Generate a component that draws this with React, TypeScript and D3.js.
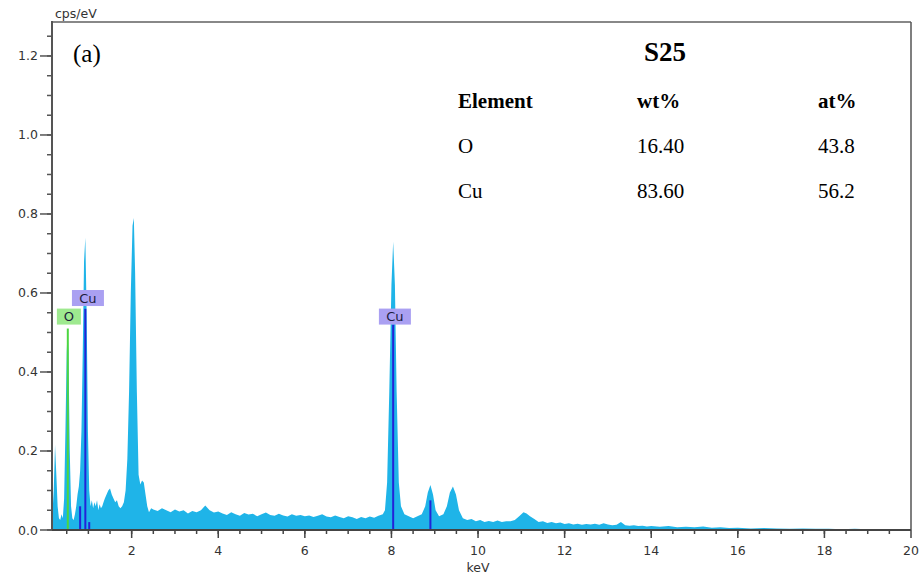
import React from "react";
import * as d3 from "d3";

// Spectrum: [keV, cps/eV]
const SPECTRUM: [number, number][] = [
  [0.16, 0.0], [0.17, 0.04], [0.2, 0.1], [0.23, 0.215], [0.26, 0.14], [0.29, 0.06],
  [0.32, 0.03], [0.35, 0.025], [0.38, 0.04], [0.41, 0.03], [0.44, 0.08], [0.47, 0.25],
  [0.5, 0.45], [0.52, 0.51], [0.54, 0.45], [0.57, 0.2], [0.6, 0.06], [0.63, 0.03],
  [0.66, 0.025], [0.69, 0.04], [0.72, 0.06], [0.75, 0.09], [0.78, 0.11], [0.81, 0.15],
  [0.84, 0.25], [0.87, 0.45], [0.9, 0.68], [0.93, 0.74], [0.96, 0.55], [0.99, 0.25],
  [1.02, 0.1], [1.05, 0.06], [1.08, 0.075], [1.11, 0.055], [1.14, 0.07], [1.17, 0.06],
  [1.2, 0.075], [1.23, 0.05], [1.26, 0.065], [1.29, 0.055], [1.32, 0.06], [1.35, 0.07],
  [1.38, 0.08], [1.42, 0.09], [1.46, 0.1], [1.5, 0.105], [1.54, 0.09], [1.58, 0.08],
  [1.62, 0.07], [1.66, 0.075], [1.7, 0.06], [1.74, 0.055], [1.78, 0.06], [1.82, 0.07],
  [1.86, 0.1], [1.9, 0.18], [1.94, 0.35], [1.98, 0.6], [2.02, 0.77], [2.05, 0.79],
  [2.08, 0.65], [2.12, 0.35], [2.16, 0.14], [2.2, 0.115], [2.24, 0.125], [2.28, 0.12],
  [2.32, 0.09], [2.36, 0.06], [2.4, 0.045], [2.45, 0.055],
  [2.5, 0.052], [2.6, 0.048], [2.7, 0.055], [2.8, 0.05], [2.9, 0.045], [3.0, 0.052],
  [3.1, 0.047], [3.2, 0.05], [3.3, 0.042], [3.4, 0.048], [3.5, 0.045], [3.6, 0.05],
  [3.7, 0.062], [3.8, 0.05], [3.9, 0.044], [4.0, 0.047],
  [4.1, 0.042], [4.2, 0.038], [4.3, 0.045], [4.4, 0.04], [4.5, 0.036], [4.6, 0.043],
  [4.7, 0.039], [4.8, 0.041], [4.9, 0.035], [5.0, 0.04], [5.1, 0.044], [5.2, 0.038],
  [5.3, 0.036], [5.4, 0.041], [5.5, 0.037], [5.6, 0.034], [5.7, 0.04], [5.8, 0.036],
  [5.9, 0.038], [6.0, 0.035],
  [6.1, 0.037], [6.2, 0.033], [6.3, 0.036], [6.4, 0.04], [6.5, 0.034], [6.6, 0.032],
  [6.7, 0.037], [6.8, 0.033], [6.9, 0.03], [7.0, 0.035], [7.1, 0.032], [7.2, 0.028],
  [7.3, 0.033], [7.4, 0.03], [7.5, 0.034], [7.6, 0.031], [7.7, 0.036], [7.8, 0.04],
  [7.85, 0.05], [7.9, 0.12], [7.95, 0.35], [8.0, 0.62], [8.04, 0.73], [8.08, 0.62],
  [8.12, 0.35], [8.17, 0.12], [8.22, 0.06], [8.3, 0.04], [8.4, 0.035], [8.5, 0.03],
  [8.6, 0.035], [8.7, 0.04], [8.78, 0.06], [8.84, 0.095], [8.9, 0.114], [8.96, 0.09],
  [9.02, 0.05], [9.1, 0.035], [9.2, 0.04], [9.28, 0.06], [9.35, 0.095], [9.42, 0.11],
  [9.49, 0.09], [9.56, 0.05], [9.65, 0.03], [9.75, 0.025], [9.85, 0.028], [9.95, 0.022],
  [10.05, 0.025], [10.15, 0.02], [10.25, 0.023], [10.35, 0.02], [10.45, 0.024],
  [10.55, 0.02], [10.65, 0.022], [10.75, 0.022], [10.85, 0.025], [10.95, 0.035],
  [11.05, 0.045], [11.12, 0.042], [11.2, 0.035], [11.3, 0.028], [11.4, 0.02],
  [11.5, 0.022], [11.6, 0.018], [11.7, 0.02], [11.8, 0.017], [11.9, 0.019],
  [12.0, 0.015], [12.1, 0.017], [12.2, 0.014], [12.3, 0.016], [12.4, 0.013],
  [12.5, 0.015], [12.6, 0.014], [12.7, 0.016], [12.8, 0.013], [12.9, 0.017],
  [13.0, 0.014], [13.1, 0.012], [13.2, 0.013], [13.3, 0.02], [13.4, 0.012],
  [13.5, 0.011], [13.6, 0.012], [13.7, 0.01], [13.8, 0.011], [13.9, 0.009],
  [14.0, 0.01], [14.2, 0.008], [14.4, 0.01], [14.6, 0.007], [14.8, 0.008],
  [15.0, 0.007], [15.2, 0.009], [15.4, 0.006], [15.6, 0.007], [15.8, 0.005],
  [16.0, 0.006], [16.3, 0.004], [16.6, 0.005], [16.9, 0.004], [17.2, 0.003],
  [17.5, 0.004], [17.8, 0.003], [18.1, 0.003], [18.4, 0.002], [18.7, 0.003],
  [19.0, 0.002], [19.4, 0.002], [19.8, 0.001], [20.0, 0.0],
];

// Element marker lines: [keV, height, colour]
const MARKERS: [number, number, string][] = [
  [0.525, 0.51, "#4cd640"],
  [0.81, 0.06, "#2323d8"],
  [0.93, 0.56, "#2323d8"],
  [1.02, 0.02, "#2323d8"],
  [8.04, 0.52, "#2323d8"],
  [8.9, 0.075, "#2323d8"],
];

// Element labels: [text, keV centre, value (bottom), fill]
const LABELS: [string, number, number, string][] = [
  ["O", 0.55, 0.52, "#9ee98f"],
  ["Cu", 0.99, 0.567, "#aaa0f2"],
  ["Cu", 8.08, 0.52, "#aaa0f2"],
];

const Y_MAJOR = [0, 0.2, 0.4, 0.6, 0.8, 1.0, 1.2];
const X_MAJOR = [2, 4, 6, 8, 10, 12, 14, 16, 18, 20];

const TABLE_HEAD = ["Element", "wt%", "at%"];
const TABLE_ROWS = [
  ["O", "16.40", "43.8"],
  ["Cu", "83.60", "56.2"],
];

export default function App() {
  const W = 924, H = 582;
  const L = 52, R = 911, T = 22, B = 530;
  const x = d3.scaleLinear().domain([0.16, 20]).range([L, R]);
  const y = d3.scaleLinear().domain([0, 1.286]).range([B, T]);

  const area = d3
    .area<[number, number]>()
    .x((d) => x(d[0]))
    .y0(B)
    .y1((d) => y(d[1]))
    .curve(d3.curveLinear);

  const yMinor = d3.range(0, 1.2501, 0.05);
  const xMinor = d3.range(0.5, 20, 0.5);
  const sans = "'DejaVu Sans', Verdana, sans-serif";
  const serif = "'Liberation Serif', 'Times New Roman', serif";
  const colX = [458, 637, 818];

  return (
    <svg width={W} height={H} style={{ position: "absolute", left: 0, top: 0, background: "#fff" }}>
      <defs>
        <clipPath id="plot">
          <rect x={L} y={T} width={R - L} height={B - T} />
        </clipPath>
      </defs>
      <g clipPath="url(#plot)">
        <path d={area(SPECTRUM) || ""} fill="#1fb4e8" />
        {MARKERS.map(([k, h, c], i) => (
          <line key={i} x1={x(k)} x2={x(k)} y1={B} y2={y(h)} stroke={c} strokeWidth={2} />
        ))}
      </g>
      {LABELS.map(([t, k, v, f], i) => {
        const w = t.length === 1 ? 24 : 32;
        const cx = x(k);
        const by = y(v);
        return (
          <g key={i}>
            <rect x={cx - w / 2} y={by - 16} width={w} height={16} fill={f} />
            <text x={cx} y={by - 3.5} textAnchor="middle" fontFamily={sans} fontSize={13} fill="#1c1c3c">
              {t}
            </text>
          </g>
        );
      })}
      {/* frame */}
      <line x1={L} x2={R} y1={T} y2={T} stroke="#888" strokeWidth={2} />
      <line x1={R} x2={R} y1={T} y2={B} stroke="#555" strokeWidth={1.5} />
      <line x1={L} x2={L} y1={T - 1} y2={B} stroke="#555" strokeWidth={2} />
      <line x1={L} x2={R} y1={B} y2={B} stroke="#444" strokeWidth={2} />
      {/* y ticks */}
      {yMinor.map((v, i) => (
        <line key={"ym" + i} x1={L - 5} x2={L} y1={y(v)} y2={y(v)} stroke="#555" strokeWidth={1.5} />
      ))}
      {Y_MAJOR.map((v) => (
        <g key={"y" + v}>
          <line x1={L - 12} x2={L} y1={y(v)} y2={y(v)} stroke="#555" strokeWidth={1.5} />
          <text x={38} y={y(v) + 4.5} textAnchor="end" fontFamily={sans} fontSize={12.5} fill="#333">
            {d3.format(".1f")(v)}
          </text>
        </g>
      ))}
      {/* x ticks */}
      {xMinor.map((v, i) => (
        <line key={"xm" + i} x1={x(v)} x2={x(v)} y1={B} y2={B + 4} stroke="#444" strokeWidth={1.5} />
      ))}
      {X_MAJOR.map((v) => (
        <g key={"x" + v}>
          <line x1={x(v)} x2={x(v)} y1={B} y2={B + 8} stroke="#444" strokeWidth={1.5} />
          <text x={x(v)} y={555} textAnchor="middle" fontFamily={sans} fontSize={12.5} fill="#333">
            {v}
          </text>
        </g>
      ))}
      <text x={x(10)} y={572} textAnchor="middle" fontFamily={sans} fontSize={12.5} fill="#333">keV</text>
      <text x={55} y={18} fontFamily={sans} fontSize={12.5} fill="#333">cps/eV</text>
      {/* annotations */}
      <text x={73} y={62} fontFamily={serif} fontSize={25} fill="#000">(a)</text>
      <text x={665} y={61} textAnchor="middle" fontFamily={serif} fontSize={27} fontWeight="bold" fill="#000">S25</text>
      {TABLE_HEAD.map((h, i) => (
        <text key={h} x={colX[i]} y={108} fontFamily={serif} fontSize={21} fontWeight="bold" fill="#000">{h}</text>
      ))}
      {TABLE_ROWS.map((row, r) =>
        row.map((c, i) => (
          <text key={r + "-" + i} x={colX[i]} y={153 + r * 45} fontFamily={serif} fontSize={21} fill="#000">{c}</text>
        ))
      )}
    </svg>
  );
}
